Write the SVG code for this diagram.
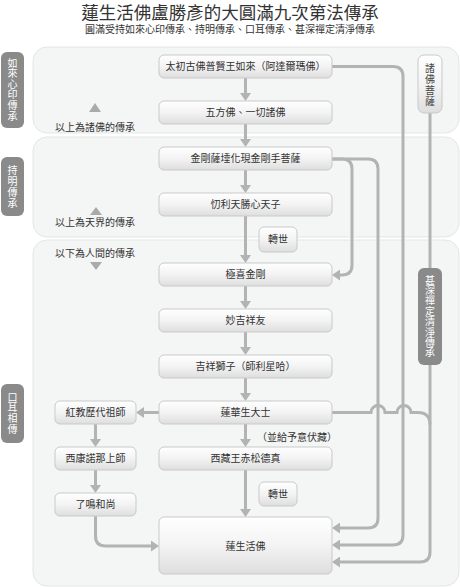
<svg xmlns="http://www.w3.org/2000/svg" width="460" height="587" viewBox="0 0 460 587">
<defs>
<linearGradient id="ng" x1="0" y1="0" x2="0" y2="1">
<stop offset="0" stop-color="#ffffff"/>
<stop offset="0.5" stop-color="#f3f3f3"/>
<stop offset="1" stop-color="#dedede"/>
</linearGradient>
<marker id="ah" markerUnits="userSpaceOnUse" markerWidth="8" markerHeight="11" refX="3" refY="5.5" orient="auto">
<path d="M0,0 L8,5.5 L0,11 z" fill="#b3b3b3"/>
</marker>
</defs>
<style>
.t{font-family:"Noto Sans CJK TC","Noto Sans CJK SC",sans-serif;fill:#333}
.nt{font-size:10px;text-anchor:middle}
.panel{fill:#f4f5f5;stroke:#e4e5e5;stroke-width:1}
.node{fill:url(#ng);stroke:#c9c9c9;stroke-width:1}
.side{fill:#8a8a8a}
.vt{font-family:"Noto Sans CJK TC","Noto Sans CJK SC",sans-serif;font-size:10px;fill:#fff;text-anchor:middle}
.c{fill:none;stroke:#b3b3b3;stroke-width:3}
.a{marker-end:url(#ah)}
.tri{fill:#aaaaaa}
</style>
<rect width="460" height="587" fill="#ffffff"/>
<text class="t" x="230" y="18.5" font-size="17.5" text-anchor="middle">蓮生活佛盧勝彥的大圓滿九次第法傳承</text>
<text class="t" x="230" y="32.5" font-size="10" text-anchor="middle">圓滿受持如來心印傳承、持明傳承、口耳傳承、甚深禪定清淨傳承</text>

<g id="panels">
<rect class="panel" x="33" y="47" width="426" height="86" rx="14"/>
<rect class="panel" x="33" y="137" width="426" height="100" rx="14"/>
<rect class="panel" x="33" y="240" width="426" height="346" rx="14"/>
</g>

<g id="label-rulai">
<rect class="side" x="1" y="52" width="23" height="76" rx="6"/>
<text class="vt"><tspan x="12.5" y="66.5">如</tspan><tspan x="12.5" y="77.1">來</tspan><tspan x="12.5" y="87.7">心</tspan><tspan x="12.5" y="98.3">印</tspan><tspan x="12.5" y="108.9">傳</tspan><tspan x="12.5" y="119.5">承</tspan></text>
</g>
<g id="label-chiming">
<rect class="side" x="1" y="157" width="23" height="59" rx="6"/>
<text class="vt"><tspan x="12.5" y="173.5">持</tspan><tspan x="12.5" y="184.5">明</tspan><tspan x="12.5" y="195.5">傳</tspan><tspan x="12.5" y="206.5">承</tspan></text>
</g>
<g id="label-kouer">
<rect class="side" x="1" y="384" width="23" height="59" rx="6"/>
<text class="vt"><tspan x="12.5" y="400.5">口</tspan><tspan x="12.5" y="411.3">耳</tspan><tspan x="12.5" y="422.1">相</tspan><tspan x="12.5" y="432.9">傳</tspan></text>
</g>

<g id="notes">
<polygon class="tri" points="89,112 101,112 95,103"/>
<text class="t" x="55" y="131" font-size="10">以上為諸佛的傳承</text>
<polygon class="tri" points="90,215 102,215 96,207"/>
<text class="t" x="55" y="226" font-size="10">以上為天界的傳承</text>
<text class="t" x="55" y="257" font-size="10">以下為人間的傳承</text>
<polygon class="tri" points="90,262 102,262 96,270"/>
<text class="t" x="257" y="441" font-size="10">（並給予意伏藏）</text>
</g>

<g id="connectors">
<path class="c a" d="M245.5,78 V96"/>
<path class="c a" d="M245.5,124 V142"/>
<path class="c a" d="M245.5,170 V188"/>
<path class="c a" d="M245.5,216 V258"/>
<path class="c a" d="M245.5,286 V304"/>
<path class="c a" d="M245.5,332 V350"/>
<path class="c a" d="M245.5,378 V396"/>
<path class="c a" d="M245.5,424 V442"/>
<path class="c a" d="M245.5,470 V512"/>
<path class="c a" d="M332,66.5 H393 Q403,66.5 403,76.5 V535 Q403,545 393,545 H337"/>
<path class="c a" d="M430,113 V552 Q430,562 420,562 H337"/>
<path class="c a" d="M332,159 H342 Q352,159 352,169 V265 Q352,275 342,275 H337"/>
<path class="c a" d="M332,159 H368 Q378,159 378,169 V518 Q378,528 368,528 H337"/>
<path class="c" d="M332,412.5 H371 A7,7 0 0 1 385,412.5 H397 A7,7 0 0 1 411,412.5 H418 Q430,412.5 430,424.5"/>
<path class="c a" d="M159,412.5 H141"/>
<path class="c a" d="M95.5,424 V442"/>
<path class="c a" d="M95.5,470 V488"/>
<path class="c a" d="M95.5,516 V536 Q95.5,546 105.5,546 H154"/>
</g>

<g id="zhufo-pusa">
<rect class="node" x="418" y="55" width="24" height="58" rx="6"/>
<text class="vt" style="fill:#444"><tspan x="430" y="71.5">諸</tspan><tspan x="430" y="82.5">佛</tspan><tspan x="430" y="93.5">菩</tspan><tspan x="430" y="104.5">薩</tspan></text>
</g>
<g id="label-shenshen">
<rect class="side" x="418" y="268" width="24" height="97" rx="6"/>
<text class="vt"><tspan x="430" y="283.5">甚</tspan><tspan x="430" y="293.9">深</tspan><tspan x="430" y="304.3">禪</tspan><tspan x="430" y="314.7">定</tspan><tspan x="430" y="325.1">清</tspan><tspan x="430" y="335.5">淨</tspan><tspan x="430" y="345.9">傳</tspan><tspan x="430" y="356.3">承</tspan></text>
</g>

<g id="n1"><rect class="node" x="159" y="55" width="173" height="23" rx="5"/><text class="t nt" x="245.5" y="70">太初古佛普賢王如來（阿達爾瑪佛）</text></g>
<g id="n2"><rect class="node" x="159" y="101" width="173" height="23" rx="5"/><text class="t nt" x="245.5" y="116">五方佛、一切諸佛</text></g>
<g id="n3"><rect class="node" x="159" y="147" width="173" height="23" rx="5"/><text class="t nt" x="245.5" y="162">金剛薩埵化現金剛手菩薩</text></g>
<g id="n4"><rect class="node" x="159" y="193" width="173" height="23" rx="5"/><text class="t nt" x="245.5" y="208">忉利天勝心天子</text></g>
<g id="zhuanshi1"><rect class="node" x="259" y="227" width="38" height="25" rx="5"/><text class="t nt" x="278" y="243">轉世</text></g>
<g id="n5"><rect class="node" x="159" y="263" width="173" height="23" rx="5"/><text class="t nt" x="245.5" y="278">極喜金剛</text></g>
<g id="n6"><rect class="node" x="159" y="309" width="173" height="23" rx="5"/><text class="t nt" x="245.5" y="324">妙吉祥友</text></g>
<g id="n7"><rect class="node" x="159" y="355" width="173" height="23" rx="5"/><text class="t nt" x="245.5" y="370">吉祥獅子（師利星哈）</text></g>
<g id="n8"><rect class="node" x="159" y="401" width="173" height="23" rx="5"/><text class="t nt" x="245.5" y="416">蓮華生大士</text></g>
<g id="n9"><rect class="node" x="159" y="447" width="173" height="23" rx="5"/><text class="t nt" x="245.5" y="462">西藏王赤松德真</text></g>
<g id="zhuanshi2"><rect class="node" x="259" y="482" width="38" height="24" rx="5"/><text class="t nt" x="278" y="498">轉世</text></g>
<g id="n10"><rect class="node" x="159" y="517" width="173" height="57" rx="5"/><text class="t nt" x="245.5" y="549.5">蓮生活佛</text></g>
<g id="l1"><rect class="node" x="55" y="401" width="81" height="23" rx="5"/><text class="t nt" x="95.5" y="416">紅教歷代祖師</text></g>
<g id="l2"><rect class="node" x="55" y="447" width="81" height="23" rx="5"/><text class="t nt" x="95.5" y="462">西康諾那上師</text></g>
<g id="l3"><rect class="node" x="55" y="493" width="81" height="23" rx="5"/><text class="t nt" x="95.5" y="508">了鳴和尚</text></g>
</svg>
